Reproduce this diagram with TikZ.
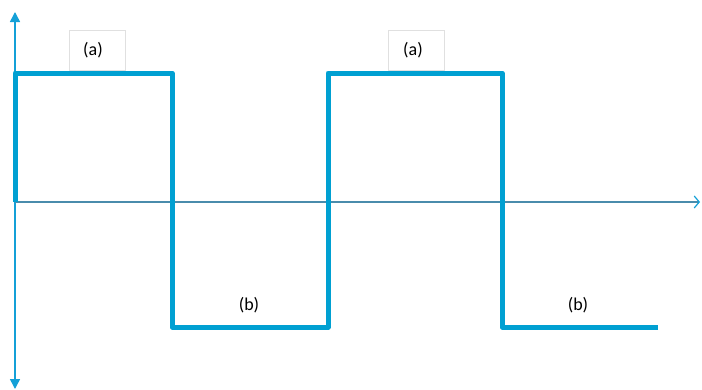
\documentclass[tikz,border=0pt]{standalone}
\usepackage{fontspec}
\setmainfont{Carlito}
\usetikzlibrary{arrows.meta}
\definecolor{wave}{RGB}{0,160,210}
\definecolor{axisgray}{RGB}{74,140,172}
\definecolor{tipblue}{RGB}{20,160,215}

\begin{document}
\begin{tikzpicture}[x=1pt,y=-1pt,
  sig/.style={draw=wave,line width=5pt,line join=round},
  lbl/.style={font=\fontsize{18}{21}\selectfont,inner sep=0pt},
  tab/.style={lbl,draw=black!12,fill=white,line width=0.8pt,minimum width=56pt,minimum height=40pt}]
\useasboundingbox (0,0) rectangle (702,389);
\coordinate (ytop) at (15,12);
\coordinate (ybot) at (15,389);
\coordinate (o) at (15,202);
\coordinate (xend) at (700,202);
\draw[tipblue,line width=1.5pt,{Triangle[length=10pt,width=10pt]}-{Triangle[length=10pt,width=10pt]}] (ybot) -- (ytop);
\draw[axisgray,line width=1.5pt,-{Straight Barb[length=5pt,width=12pt,line width=1.2pt,color=tipblue]}] (o) -- (xend);
\node[tab] (a1) at (97,50) {\hspace*{-8pt}(a)};
\node[tab] (a2) at (416,50) {\hspace*{-6pt}(a)};
\node[lbl] (b1) at (249,305) {(b)};
\node[lbl] (b2) at (578,305) {(b)};
\coordinate (p1) at (15,73);
\coordinate (p2) at (172,73);
\coordinate (p3) at (172,327);
\coordinate (p4) at (328,327);
\coordinate (p5) at (328,73);
\coordinate (p6) at (502,73);
\coordinate (p7) at (502,327);
\coordinate (p8) at (658,327);
\draw[sig] (o) -- (p1) -- (p2) -- (p3) -- (p4) -- (p5) -- (p6) -- (p7) -- (p8);
\end{tikzpicture}
\end{document}
